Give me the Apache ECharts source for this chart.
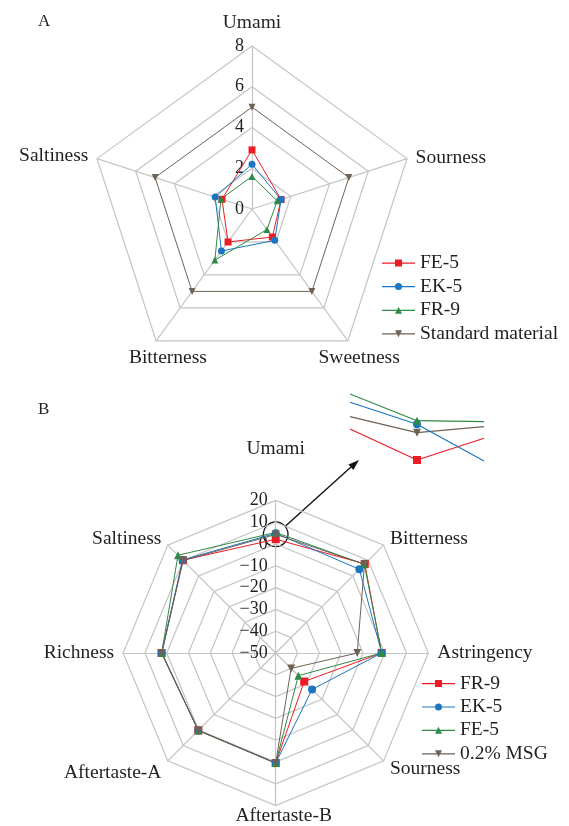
<!DOCTYPE html>
<html><head><meta charset="utf-8">
<script src="https://cdn.jsdelivr.net/npm/echarts@6/dist/echarts.min.js"></script>
<style>html,body{margin:0;padding:0;background:#fff}#c{width:569px;height:826px}</style>
</head><body><div id="c"></div>
<script>
const FONT = 'Liberation Serif';
const TXT = '#231f20';
const GRID = '#c4c4c4';

// ---------- Chart A (indicators listed clockwise from top) ----------
const aCategories = ['Umami', 'Sourness', 'Sweetness', 'Bitterness', 'Saltiness'];
const aTicks = [0, 2, 4, 6, 8];
const aSeriesNames = ['FE-5', 'EK-5', 'FR-9', 'Standard material'];
const aFE5 = [2.9, 1.5, 1.7, 2.0, 1.55];
const aEK5 = [2.2, 1.5, 1.9, 2.55, 1.9];
const aFR9 = [1.6, 1.3, 1.25, 3.1, 1.6];
const aStd = [5.0, 5.0, 5.0, 5.0, 5.0];

// ---------- Chart B (indicators listed clockwise from top) ----------
const bCategories = ['Umami', 'Bitterness', 'Astringency', 'Sourness', 'Aftertaste-B', 'Aftertaste-A', 'Richness', 'Saltiness'];
const bTicks = [-50, -40, -30, -20, -10, 0, 10, 20];
const bSeriesNames = ['FR-9', 'EK-5', 'FE-5', '0.2% MSG'];
const bFR9 = [2.2, 7.8, -1.4, -31.5, 0.5, 0.2, 2.4, 10.2];
const bEK5 = [4.9, 4.3, -1.4, -26.4, 0.5, 0.2, 2.2, 10.4];
const bFE5 = [5.3, 7.5, -1.4, -35.3, 0.5, 0.3, 2.3, 13.4];
const bMSG = [4.4, 7.6, -12.6, -40.0, 0.5, 0.2, 2.3, 10.0];

// ---------- Magnified inset of Umami region in B (left arm, Umami point, right arm) ----------
const insetX = [0, 1, 2];
const insetFR9 = [36, 5, 26.7];
const insetEK5 = [62.7, 40.7, 4];
const insetFE5 = [71, 44.3, 43.3];
const insetMSG = [48.3, 32.3, 38.3];

// ---------- axis-name placement tweaks (style only) ----------
const aNameStyle = {
  'Umami': { padding: [0, 0, 4, 0] },
  'Sourness': { verticalAlign: 'top', lineHeight: 4 },
  'Sweetness': { align: 'center', verticalAlign: 'top', padding: [0, 0, 0, 12] },
  'Bitterness': { align: 'center', verticalAlign: 'top', padding: [0, 0, 0, 34] },
  'Saltiness': { padding: [0, 0, 4, 0] }
};
const bNameStyle = {
  'Umami': { padding: [0, 0, 33, 0] },
  'Sourness': { verticalAlign: 'top', lineHeight: 4 },
  'Aftertaste-B': { align: 'center', verticalAlign: 'top', lineHeight: 3, padding: [0, 0, 0, 16] },
  'Aftertaste-A': { verticalAlign: 'top', lineHeight: 12 }
};

const RED = '#ec1c24', BLUE = '#1b76c2', GREEN = '#2f8a46', BROWN = '#6e6255';
const SYM_SQ = 'rect', SYM_CI = 'circle', SYM_TR = 'triangle', SYM_IT = 'path://M0,0 L10,0 L5,9 Z';

const ICON_SQ = 'path://M0,3 L33,3 L33,4.2 L0,4.2 Z M13,0 L20,0 L20,7 L13,7 Z';
const ICON_CI = 'path://M0,3 L33,3 L33,4.2 L0,4.2 Z M13,3.5 A3.5,3.5 0 1,1 20,3.5 A3.5,3.5 0 1,1 13,3.5 Z';
const ICON_TR = 'path://M0,3 L33,3 L33,4.2 L0,4.2 Z M13,7 L16.5,0 L20,7 Z';
const ICON_IT = 'path://M0,3 L33,3 L33,4.2 L0,4.2 Z M13,0 L20,0 L16.5,7 Z';

// ECharts radar places indicators counter-clockwise; reorder clockwise lists
const ccw = arr => [arr[0]].concat(arr.slice(1).reverse());

function indicators(cats, min, max, nameStyle) {
  return ccw(cats).map((n, i) => {
    const o = { name: n, min: min, max: max };
    if (i === 0) o.axisLabel = { show: true };
    if (nameStyle[n]) o.nameTextStyle = Object.assign({ color: TXT, fontFamily: FONT, fontSize: 19.5 }, nameStyle[n]);
    return o;
  });
}

const minusFmt = v => String(v).replace('-', '\u2212');

function radarBase(center, radius, split) {
  return {
    center: center, radius: radius, startAngle: 90, splitNumber: split, shape: 'polygon',
    nameGap: 9,
    axisName: { color: TXT, fontFamily: FONT, fontSize: 19.5 },
    axisLine: { lineStyle: { color: GRID, width: 1.2 } },
    splitLine: { lineStyle: { color: GRID, width: 1.2 } },
    splitArea: { show: false },
    axisTick: { show: false },
    axisLabel: { show: false, color: TXT, fontFamily: FONT, fontSize: 18, margin: 8, formatter: minusFmt, showMinLabel: true, showMaxLabel: true, hideOverlap: false }
  };
}

function item(name, vals, color, sym, size) {
  return {
    name: name, value: ccw(vals), symbol: sym, symbolSize: size,
    itemStyle: { color: color }, lineStyle: { color: color, width: 1 }
  };
}

function insetSeries(name, vals, color, sym, size) {
  return {
    type: 'line', xAxisIndex: 0, yAxisIndex: 0, name: name + ' ', silent: true,
    data: vals.map((v, i) => ({ value: [insetX[i], v], symbol: i === 1 ? sym : 'none', symbolSize: size })),
    lineStyle: { color: color, width: 1.2 }, itemStyle: { color: color }, showSymbol: true
  };
}

function legendData(names, colors, icons) {
  return names.map((n, i) => ({ name: n, icon: icons[i], itemStyle: { color: colors[i], borderWidth: 0 } }));
}

const chart = echarts.init(document.getElementById('c'), null, { renderer: 'canvas' });
chart.setOption({
  animation: false,
  backgroundColor: '#fff',
  title: [
    { text: 'A', left: 38, top: 13, padding: 0, textStyle: { fontFamily: FONT, fontSize: 17, fontWeight: 'normal', color: TXT } },
    { text: 'B', left: 38, top: 401, padding: 0, textStyle: { fontFamily: FONT, fontSize: 17, fontWeight: 'normal', color: TXT } }
  ],
  legend: [
    {
      orient: 'vertical', left: 382, top: 253, padding: 0, itemGap: 3.6, itemWidth: 33, itemHeight: 7,
      textStyle: { fontFamily: FONT, fontSize: 19.5, color: TXT, lineHeight: 19 },
      itemStyle: { borderWidth: 0 }, selectedMode: false,
      data: legendData(aSeriesNames, [RED, BLUE, GREEN, BROWN], [ICON_SQ, ICON_CI, ICON_TR, ICON_IT])
    },
    {
      orient: 'vertical', left: 422, top: 673.5, padding: 0, itemGap: 3.4, itemWidth: 33, itemHeight: 7,
      textStyle: { fontFamily: FONT, fontSize: 19.5, color: TXT, lineHeight: 19 },
      itemStyle: { borderWidth: 0 }, selectedMode: false,
      data: legendData(bSeriesNames, [RED, BLUE, GREEN, BROWN], [ICON_SQ, ICON_CI, ICON_TR, ICON_IT])
    }
  ],
  radar: [
    Object.assign(radarBase([252, 209], 163, 4), { indicator: indicators(aCategories, 0, 8, aNameStyle) }),
    Object.assign(radarBase([275.7, 653], 152.6, 7), { indicator: indicators(bCategories, -50, 20, bNameStyle) })
  ],
  grid: [{ left: 350, top: 390, width: 134, height: 75 }],
  xAxis: [{ type: 'value', min: 0, max: 2, show: false }],
  yAxis: [{ type: 'value', min: 0, max: 75, show: false }],
  series: [
    {
      type: 'radar', radarIndex: 0, silent: true,
      data: [
        item(aSeriesNames[0], aFE5, RED, SYM_SQ, 7),
        item(aSeriesNames[1], aEK5, BLUE, SYM_CI, 7),
        item(aSeriesNames[2], aFR9, GREEN, SYM_TR, 7),
        item(aSeriesNames[3], aStd, BROWN, SYM_IT, 7)
      ]
    },
    {
      type: 'radar', radarIndex: 1, silent: true,
      data: [
        item(bSeriesNames[0], bFR9, RED, SYM_SQ, 8),
        item(bSeriesNames[1], bEK5, BLUE, SYM_CI, 8),
        item(bSeriesNames[2], bFE5, GREEN, SYM_TR, 8),
        item(bSeriesNames[3], bMSG, BROWN, SYM_IT, 8)
      ]
    },
    insetSeries('FR-9', insetFR9, RED, SYM_SQ, 8),
    insetSeries('MSG', insetMSG, BROWN, SYM_IT, 8),
    insetSeries('EK-5', insetEK5, BLUE, SYM_CI, 8),
    insetSeries('FE-5', insetFE5, GREEN, SYM_TR, 8)
  ],
  graphic: [
    { type: 'circle', shape: { cx: 275.7, cy: 534.3, r: 12.3 }, style: { fill: 'none', stroke: '#111', lineWidth: 1.3 }, silent: true },
    { type: 'line', shape: { x1: 285, y1: 526.5, x2: 356, y2: 462.5 }, style: { stroke: '#111', lineWidth: 1.4 }, silent: true },
    { type: 'polygon', shape: { points: [[359, 460], [348.5, 464.6], [353.4, 470]] }, style: { fill: '#111' }, silent: true }
  ]
});
</script>
</body></html>
